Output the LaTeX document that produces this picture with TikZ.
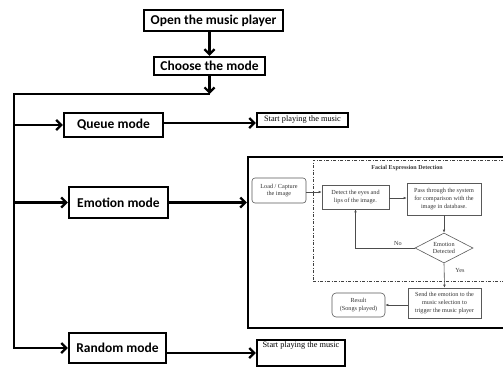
\documentclass[tikz,border=0pt]{standalone}
\usepackage{fontspec}
\setmainfont{Liberation Serif}
\newfontfamily\calib{Carlito}
\usetikzlibrary{arrows.meta,shapes.geometric,calc}
\tikzset{
  mainbox/.style={draw, line width=2.4pt, inner sep=0pt, font=\calib\bfseries\fontsize{13.5}{15}\selectfont},
  mainarrow/.style={line width=2.2pt, -{Straight Barb[length=5pt,width=10pt]}},
  startbox/.style={draw, line width=2.4pt, inner sep=0pt, font=\fontsize{8.3}{10}\selectfont},
  ibox/.style={draw=black!65, line width=0.6pt, inner sep=0pt, align=center, text=black!80, font=\fontsize{6.2}{7.8}\selectfont},
  itext/.style={text=black!80, font=\fontsize{6.2}{7.8}\selectfont, inner sep=0pt},
  iarrow/.style={draw=black!70, line width=0.6pt, -{Latex[length=3pt,width=2.6pt]}},
  dashdotbox/.style={draw=black!75, line width=0.7pt, dash pattern=on 3pt off 1.6pt on 0.8pt off 1.6pt},
}
\begin{document}
\begin{tikzpicture}[x=1pt,y=-1pt]
\useasboundingbox (0,0) rectangle (503,367);
\clip (0,0) rectangle (503,367);
% main flow
\node[mainbox, minimum width=139pt, minimum height=21pt] (open) at (213.5,20.5) {Open the music player};
\node[mainbox, minimum width=111pt, minimum height=18pt] (choose) at (209.5,66) {Choose the mode};
\node[mainbox, minimum width=99pt, minimum height=24pt] (queue) at (113.5,125) {Queue mode};
\node[mainbox, minimum width=99pt, minimum height=31pt] (emotion) at (118.5,202.5) {Emotion mode};
\node[mainbox, minimum width=97pt, minimum height=30pt] (random) at (117.5,348) {Random mode};
\coordinate (j) at (209.5,94);
\coordinate (L) at (14,94);
\node[startbox, minimum width=91pt, minimum height=14pt] (start1) at (302.5,120) {Start playing the music};
\node[startbox, minimum width=88pt, text depth=16pt, inner ysep=2pt] (start2) at (301,353) {Start playing the music};
\node[draw, line width=2.4pt, minimum width=267pt, minimum height=171pt, inner sep=0pt] (emobox) at (381.5,242.5) {};

\draw[mainarrow] (open.south -| choose.north) -- (choose.north);
\draw[mainarrow] (choose.south) -- (j);
\draw[mainarrow] (j) -- (L) -- (L |- random.west) -- (random.west);
\draw[mainarrow] (L |- queue.west) -- (queue.west);
\draw[mainarrow] (L |- emotion.west) -- (emotion.west);
\draw[mainarrow] (queue.east |- 0,123) -- (start1.west |- 0,123);
\draw[mainarrow] (emotion.east) -- (emotion.east -| emobox.west);
\draw[mainarrow] (random.east |- 0,353) -- (start2.west |- 0,353);

% inner diagram
\node[dashdotbox, minimum width=210pt, minimum height=121pt, inner sep=0pt] (fed) at (418,220.5) {};
\node[itext, font=\bfseries\fontsize{6}{7}\selectfont] (title) at (407,168) {Facial Expression Detection};
\node[ibox, rounded corners=3pt, minimum width=54pt, minimum height=25pt] (load) at (279,190.5) {Load / Capture\\the image};
\node[ibox, minimum width=67pt, minimum height=24pt] (detect) at (355.5,197) {Detect the eyes and\\lips of the image.};
\node[ibox, minimum width=74pt, minimum height=32pt] (pass) at (444,199) {Pass through the system\\for comparison with the\\image in database.};
\node[ibox, diamond, aspect=1.93, minimum width=58pt, minimum height=30pt] (dec) at (444,248) {};
\node[itext, align=center] (dectext) at (444,248) {Emotion\\Detected};
\node[ibox, minimum width=73pt, minimum height=30pt] (send) at (444.5,303) {Send the emotion to the\\music selection to\\trigger the music player};
\node[ibox, rounded corners=4pt, minimum width=53pt, minimum height=24pt] (result) at (358.5,305) {Result\\(Songs played)};
\coordinate (nocorner) at (355.5,248);
\node[itext] (nolabel) at (398,243) {No};
\node[itext] (yeslabel) at (460,270) {Yes};

\draw[iarrow] (load.east |- 0,192) -- (detect.west |- 0,192);
\draw[iarrow] (detect.east |- 0,198) -- (pass.west |- 0,198);
\draw[iarrow] (pass.south) -- (dec.north);
\draw[iarrow] (dec.west) -- (nocorner) -- (detect.south);
\draw[iarrow] (dec.south) -- (send.north);
\draw[iarrow] (send.west |- result.east) -- (result.east);
\end{tikzpicture}
\end{document}
